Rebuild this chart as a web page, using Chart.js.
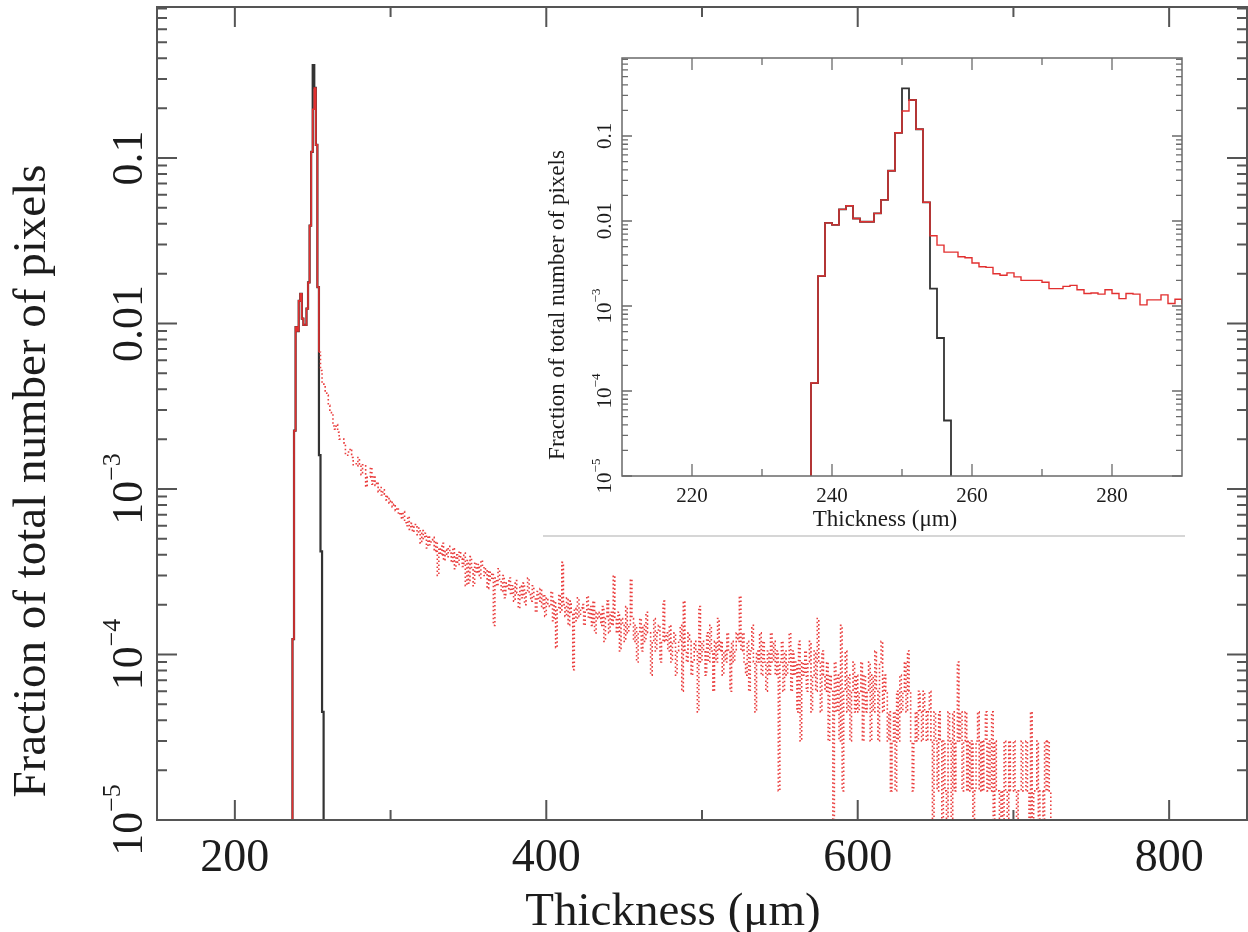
<!DOCTYPE html>
<html>
<head>
<meta charset="utf-8">
<title>Thickness distribution</title>
<script src="https://cdn.jsdelivr.net/npm/chart.js@4.4.1/dist/chart.umd.min.js"></script>
<style>
  body { margin: 0; background: #fff; }
  #wrap { position: relative; width: 1248px; height: 932px; }
  #mainChart { position: absolute; left: 0; top: 0; }
  #insetChart { position: absolute; left: 543px; top: 40px; }
</style>
</head>
<body>
<div id="wrap">
  <canvas id="mainChart" width="1248" height="932"></canvas>
  <canvas id="insetChart" width="642" height="497"></canvas>
</div>
<script>
// Histogram bins are 1 µm wide; values are fraction of total pixels per bin (left edge listed)
const redStart = 237;
const redFraction = [
  // 237 - 254 (peak)
  1.24e-4, 2.25e-3, 9.5e-3, 9.0e-3, 1.37e-2, 1.51e-2, 1.07e-2, 9.8e-3, 9.8e-3, 1.23e-2,
  1.77e-2, 3.9e-2, 0.109, 0.197, 0.265, 0.12, 1.66e-2, 6.7e-3,
  // 255 - 714 (tail)
  5.2e-3, 4.3e-3, 4.3e-3, 3.8e-3, 3.7e-3, 3.2e-3, 2.9e-3, 2.85e-3, 2.4e-3, 2.3e-3,
  2.45e-3, 2.2e-3, 2.0e-3, 2.0e-3, 2.0e-3, 1.9e-3, 1.6e-3, 1.6e-3, 1.7e-3, 1.75e-3,
  1.55e-3, 1.4e-3, 1.42e-3, 1.38e-3, 1.55e-3, 1.4e-3, 1.22e-3, 1.4e-3, 1.38e-3, 1.03e-3,
  1.18e-3, 1.18e-3, 1.35e-3, 1.07e-3, 1.2e-3, 1.05e-3, 1.1e-3, 9.6e-4, 1.02e-3, 9.2e-4,
  9.9e-4, 9.3e-4, 8.6e-4, 9.0e-4, 8.2e-4, 8.5e-4, 7.8e-4, 8.1e-4, 7.4e-4, 7.7e-4,
  7.0e-4, 7.2e-4, 6.6e-4, 7.3e-4, 6.4e-4, 6.0e-4, 6.8e-4, 5.7e-4, 6.2e-4, 5.5e-4,
  6.1e-4, 5.9e-4, 5.3e-4, 5.8e-4, 4.7e-4, 5.6e-4, 5.0e-4, 5.4e-4, 4.4e-4, 5.2e-4,
  4.6e-4, 4.9e-4, 5.1e-4, 4.2e-4, 4.8e-4, 3.0e-4, 4.4e-4, 4.0e-4, 4.7e-4, 3.7e-4,
  4.3e-4, 3.9e-4, 4.5e-4, 4.1e-4, 3.6e-4, 4.4e-4, 3.3e-4, 4.0e-4, 3.5e-4, 4.2e-4,
  3.8e-4, 3.4e-4, 4.1e-4, 2.6e-4, 3.7e-4, 2.7e-4, 3.9e-4, 3.3e-4, 2.6e-4, 3.6e-4,
  3.1e-4, 3.5e-4, 2.9e-4, 3.7e-4, 3.4e-4, 3.0e-4, 3.3e-4, 2.5e-4, 3.2e-4, 2.8e-4,
  3.1e-4, 1.5e-4, 2.9e-4, 2.6e-4, 3.3e-4, 2.8e-4, 2.4e-4, 3.0e-4, 2.2e-4, 2.7e-4,
  2.5e-4, 2.9e-4, 2.3e-4, 2.6e-4, 2.1e-4, 2.8e-4, 2.35e-4, 1.9e-4, 2.6e-4, 2.2e-4,
  2.7e-4, 2.0e-4, 2.4e-4, 2.9e-4, 2.3e-4, 2.1e-4, 2.6e-4, 2.2e-4, 1.8e-4, 2.4e-4,
  2.1e-4, 2.5e-4, 1.9e-4, 2.3e-4, 1.7e-4, 2.2e-4, 2.0e-4, 1.95e-4, 2.4e-4, 1.6e-4,
  2.1e-4, 1.1e-4, 1.9e-4, 2.3e-4, 1.8e-4, 3.6e-4, 2.0e-4, 1.7e-4, 2.2e-4, 1.5e-4,
  2.1e-4, 1.8e-4, 8.1e-5, 1.9e-4, 1.6e-4, 2.2e-4, 1.7e-4, 1.9e-4, 2.0e-4, 1.5e-4,
  1.8e-4, 2.25e-4, 1.65e-4, 1.95e-4, 1.5e-4, 2.1e-4, 1.35e-4, 1.8e-4, 1.65e-4, 1.8e-4,
  1.5e-4, 1.95e-4, 1.2e-4, 1.65e-4, 2.1e-4, 1.35e-4, 1.8e-4, 1.5e-4, 3.0e-4, 1.65e-4,
  1.35e-4, 1.8e-4, 1.05e-4, 1.65e-4, 1.5e-4, 1.2e-4, 1.95e-4, 1.35e-4, 1.5e-4, 2.85e-4,
  1.65e-4, 1.2e-4, 1.5e-4, 9e-5, 1.35e-4, 1.65e-4, 1.05e-4, 1.5e-4, 1.2e-4, 1.8e-4,
  1.35e-4, 1.35e-4, 7.5e-5, 1.2e-4, 1.65e-4, 1.05e-4, 1.35e-4, 1.5e-4, 9e-5, 1.2e-4,
  2.1e-4, 1.2e-4, 1.35e-4, 1.05e-4, 1.5e-4, 9e-5, 1.2e-4, 1.35e-4, 7.5e-5, 1.05e-4,
  1.2e-4, 1.5e-4, 6e-5, 2.1e-4, 1.05e-4, 9e-5, 1.35e-4, 1.2e-4, 7.5e-5, 9e-5,
  1.2e-4, 1.05e-4, 4.5e-5, 1.95e-4, 9e-5, 1.2e-4, 1.05e-4, 7.5e-5, 1.35e-4, 9e-5,
  1.5e-4, 1.05e-4, 6e-5, 1.2e-4, 9e-5, 1.65e-4, 1.05e-4, 1.2e-4, 7.5e-5, 1.05e-4,
  9e-5, 1.35e-4, 1.05e-4, 6e-5, 1.2e-4, 9e-5, 1.05e-4, 1.35e-4, 1.2e-4, 2.25e-4,
  1.05e-4, 1.35e-4, 9e-5, 7.5e-5, 1.2e-4, 6e-5, 1.05e-4, 1.5e-4, 9e-5, 4.5e-5,
  1.05e-4, 9e-5, 1.35e-4, 7.5e-5, 1.2e-4, 9e-5, 6e-5, 1.05e-4, 7.5e-5, 1.35e-4,
  9e-5, 1.2e-4, 7.5e-5, 1.05e-4, 1.5e-5, 9e-5, 1.2e-4, 6e-5, 1.05e-4, 7.5e-5,
  9e-5, 1.35e-4, 6e-5, 1.05e-4, 7.5e-5, 9e-5, 4.5e-5, 1.2e-4, 3e-5, 9e-5,
  7.5e-5, 1.05e-4, 6e-5, 9e-5, 1.2e-4, 4.5e-5, 7.5e-5, 1.05e-4, 6e-5, 1.65e-4,
  9e-5, 4.5e-5, 1.05e-4, 7.5e-5, 6e-5, 9e-5, 3e-5, 7.5e-5, 6e-5, 0,
  9e-5, 4.5e-5, 7.5e-5, 3e-5, 1.5e-4, 1.5e-5, 6e-5, 1.05e-4, 4.5e-5, 7.5e-5,
  3e-5, 6e-5, 9e-5, 4.5e-5, 7.5e-5, 4.5e-5, 6e-5, 9e-5, 3e-5, 7.5e-5,
  4.5e-5, 6e-5, 9e-5, 3e-5, 7.5e-5, 4.5e-5, 1.05e-4, 6e-5, 3e-5, 9e-5,
  1.2e-4, 4.5e-5, 7.5e-5, 6e-5, 3e-5, 4.5e-5, 1.5e-5, 3e-5, 4.5e-5, 1.5e-5,
  6e-5, 3e-5, 7.5e-5, 4.5e-5, 6e-5, 9e-5, 4.5e-5, 1.05e-4, 6e-5, 3e-5,
  1.5e-5, 3e-5, 4.5e-5, 3e-5, 6e-5, 4.5e-5, 3e-5, 6e-5, 4.5e-5, 3e-5,
  4.5e-5, 6e-5, 3e-5, 0, 4.5e-5, 3e-5, 1.5e-5, 4.5e-5, 3e-5, 0,
  3e-5, 1.5e-5, 0, 4.5e-5, 3e-5, 0, 4.5e-5, 1.5e-5, 3e-5, 9e-5,
  3e-5, 4.5e-5, 1.5e-5, 3e-5, 4.5e-5, 1.5e-5, 3e-5, 1.5e-5, 3e-5, 0,
  1.5e-5, 3e-5, 4.5e-5, 1.5e-5, 3e-5, 1.5e-5, 3e-5, 4.5e-5, 1.5e-5, 3e-5,
  1.5e-5, 4.5e-5, 0, 3e-5, 1.5e-5, 1.5e-5, 0, 1.5e-5, 0, 3e-5,
  1.5e-5, 0, 3e-5, 1.5e-5, 1.5e-5, 3e-5, 1.5e-5, 0, 1.5e-5, 1.5e-5,
  3e-5, 1.5e-5, 1.5e-5, 3e-5, 1.5e-5, 0, 4.5e-5, 0, 1.5e-5, 1.5e-5,
  // 715 - 723
  3e-5, 0, 1.5e-5, 1.5e-5, 0, 3e-5, 1.5e-5, 3e-5, 1.5e-5
];

const blackStart = 237;
const blackFraction = [
  1.24e-4, 2.25e-3, 9.5e-3, 9.0e-3, 1.37e-2, 1.51e-2, 1.07e-2, 9.8e-3, 9.8e-3, 1.23e-2,
  1.77e-2, 3.9e-2, 0.109, 0.364, 0.265, 0.12, 1.66e-2, 1.6e-3, 4.2e-4, 4.5e-5
];

// red trace is drawn dotted from this bin on in the main plot
const dottedFrom = 254;

// tick marks / labels
const mainXTicks = [200, 400, 600, 800];
const mainXMinor = [300, 500, 700];
const insetXTicks = [220, 240, 260, 280];
const insetXMinor = [230, 250, 270];
const decadeTicks = [0.1, 0.01, 1e-3, 1e-4, 1e-5];
const decadeLabels = [['0.1', ''], ['0.01', ''], ['10', '\u22123'], ['10', '\u22124'], ['10', '\u22125']];

const yMinorTicks = [];
decadeTicks.forEach(d => { for (let m = 2; m <= 9; m++) yMinorTicks.push(d * m); });

const RED = 'rgb(226, 48, 48)';
const DOT_RED = 'rgb(234, 64, 64)';
const DARK = '#333';
const TEXT = '#1c1c1c';
const SERIF = '"Liberation Serif", "DejaVu Serif", serif';
// empty bins can't sit on a log axis: park them below the visible range so the line drops to the axis
const EMPTY = 1e-8;

function toSteps(start, values) {
  const pts = [{ x: start - 1, y: EMPTY }];
  values.forEach((v, i) => pts.push({ x: start + i, y: v > 0 ? v : EMPTY }));
  pts.push({ x: start + values.length, y: EMPTY });
  return pts;
}

function sciFrame(cfg) {
  return {
    id: 'sciFrame',
    beforeDraw(chart) {
      if (!cfg.background) return;
      const { ctx, width, height } = chart;
      ctx.save();
      ctx.fillStyle = '#fff';
      ctx.fillRect(0, 0, width, height);
      ctx.fillStyle = '#d6d6d6';
      ctx.fillRect(0, height - 2, width, 2);
      ctx.restore();
    },
    afterDatasetsDraw(chart) {
      const { ctx, chartArea: a, scales: { x, y } } = chart;
      ctx.save();
      ctx.strokeStyle = cfg.frameColor;
      ctx.lineWidth = cfg.frameWidth;
      ctx.strokeRect(a.left, a.top, a.right - a.left, a.bottom - a.top);

      // inward ticks on all four sides
      ctx.lineWidth = cfg.tickWidth;
      ctx.beginPath();
      const xTick = (v, len) => {
        const p = x.getPixelForValue(v);
        ctx.moveTo(p, a.bottom); ctx.lineTo(p, a.bottom - len);
        ctx.moveTo(p, a.top); ctx.lineTo(p, a.top + len);
      };
      const yTick = (v, len) => {
        const p = y.getPixelForValue(v);
        ctx.moveTo(a.left, p); ctx.lineTo(a.left + len, p);
        ctx.moveTo(a.right, p); ctx.lineTo(a.right - len, p);
      };
      cfg.xMajor.forEach(v => xTick(v, cfg.xMajorLen));
      cfg.xMinor.forEach(v => xTick(v, cfg.xMinorLen));
      decadeTicks.forEach(v => yTick(v, cfg.yMajorLen));
      yMinorTicks.filter(v => v <= y.max).forEach(v => yTick(v, cfg.yMinorLen));
      ctx.stroke();

      // rotated y tick labels, exponent set as superscript
      ctx.fillStyle = TEXT;
      ctx.textBaseline = 'middle';
      ctx.textAlign = 'left';
      const baseFont = `${cfg.yTickSize}px ${SERIF}`;
      const expFont = `${Math.round(cfg.yTickSize * 0.6)}px ${SERIF}`;
      decadeTicks.forEach((v, i) => {
        const [base, exp] = decadeLabels[i];
        ctx.font = baseFont;
        const wb = ctx.measureText(base).width;
        ctx.font = expFont;
        const we = exp ? ctx.measureText(exp).width : 0;
        const start = -(wb + we) / 2;
        ctx.save();
        ctx.translate(cfg.yTickX, y.getPixelForValue(v));
        ctx.rotate(-Math.PI / 2);
        ctx.font = baseFont;
        ctx.fillText(base, start, 0);
        if (exp) {
          ctx.font = expFont;
          ctx.fillText(exp, start + wb, -cfg.yTickSize * 0.38);
        }
        ctx.restore();
      });

      // axis titles
      ctx.font = `${cfg.titleSize}px ${SERIF}`;
      ctx.textAlign = 'center';
      ctx.fillText('Thickness (\u03bcm)', cfg.xTitleX, cfg.xTitleY);
      ctx.save();
      ctx.translate(cfg.yTitleX, cfg.yTitleY);
      ctx.rotate(-Math.PI / 2);
      ctx.fillText('Fraction of total number of pixels', 0, 0);
      ctx.restore();
      ctx.restore();
    }
  };
}

function xScale(min, max, ticks, height, size, padding) {
  return {
    type: 'linear', min, max,
    grid: { display: false, drawTicks: false },
    border: { display: false },
    afterBuildTicks: s => { s.ticks = ticks.map(v => ({ value: v })); },
    afterFit: s => { s.height = height; },
    ticks: { padding, color: TEXT, autoSkip: false, maxRotation: 0, font: { family: SERIF, size } }
  };
}

function yScale(max, width) {
  return {
    type: 'logarithmic', min: 1e-5, max,
    grid: { display: false, drawTicks: false },
    border: { display: false },
    ticks: { display: false },
    afterFit: s => { s.width = width; }
  };
}

const baseOptions = {
  responsive: false,
  animation: false,
  events: [],
  plugins: { legend: { display: false }, tooltip: { enabled: false } }
};

// Main plot
new Chart(document.getElementById('mainChart'), {
  type: 'line',
  data: {
    datasets: [
      {
        label: 'Measured',
        data: toSteps(redStart, redFraction),
        borderColor: RED, borderWidth: 1.6, stepped: 'before', pointRadius: 0,
        segment: {
          borderDash: c => c.p0.parsed.x >= dottedFrom ? [1.6, 2.4] : undefined,
          borderColor: c => c.p0.parsed.x >= dottedFrom ? DOT_RED : undefined
        }
      },
      {
        label: 'Reference',
        data: toSteps(blackStart, blackFraction),
        borderColor: DARK, borderWidth: 2.2, stepped: 'before', pointRadius: 0
      }
    ]
  },
  options: {
    ...baseOptions,
    layout: { padding: { top: 7, right: 1, left: 0, bottom: 0 } },
    scales: {
      x: xScale(150, 850, mainXTicks, 112, 46, 11),
      y: yScale(0.817, 157)
    }
  },
  plugins: [sciFrame({
    frameColor: '#555', frameWidth: 2, tickWidth: 2,
    xMajor: mainXTicks, xMinor: mainXMinor, xMajorLen: 20, xMinorLen: 10,
    yMajorLen: 20, yMinorLen: 10,
    yTickX: 130, yTickSize: 44,
    titleSize: 47, xTitleX: 673, xTitleY: 913, yTitleX: 33, yTitleY: 481
  })]
});

// Inset: zoom on the peak
new Chart(document.getElementById('insetChart'), {
  type: 'line',
  data: {
    datasets: [
      {
        label: 'Measured',
        data: toSteps(redStart, redFraction),
        borderColor: RED, borderWidth: 1.4, stepped: 'before', pointRadius: 0
      },
      {
        label: 'Reference',
        data: toSteps(blackStart, blackFraction),
        borderColor: DARK, borderWidth: 1.8, stepped: 'before', pointRadius: 0
      }
    ]
  },
  options: {
    ...baseOptions,
    layout: { padding: { top: 18, right: 3, left: 0, bottom: 0 } },
    scales: {
      x: xScale(210, 290, insetXTicks, 61, 21, 8),
      y: yScale(0.827, 79)
    }
  },
  plugins: [sciFrame({
    background: true,
    frameColor: '#6a6a6a', frameWidth: 1.5, tickWidth: 1.3,
    xMajor: insetXTicks, xMinor: insetXMinor, xMajorLen: 12, xMinorLen: 7,
    yMajorLen: 10, yMinorLen: 6,
    yTickX: 62, yTickSize: 21,
    titleSize: 23, xTitleX: 342, xTitleY: 480, yTitleX: 15, yTitleY: 265
  })]
});
</script>
</body>
</html>
